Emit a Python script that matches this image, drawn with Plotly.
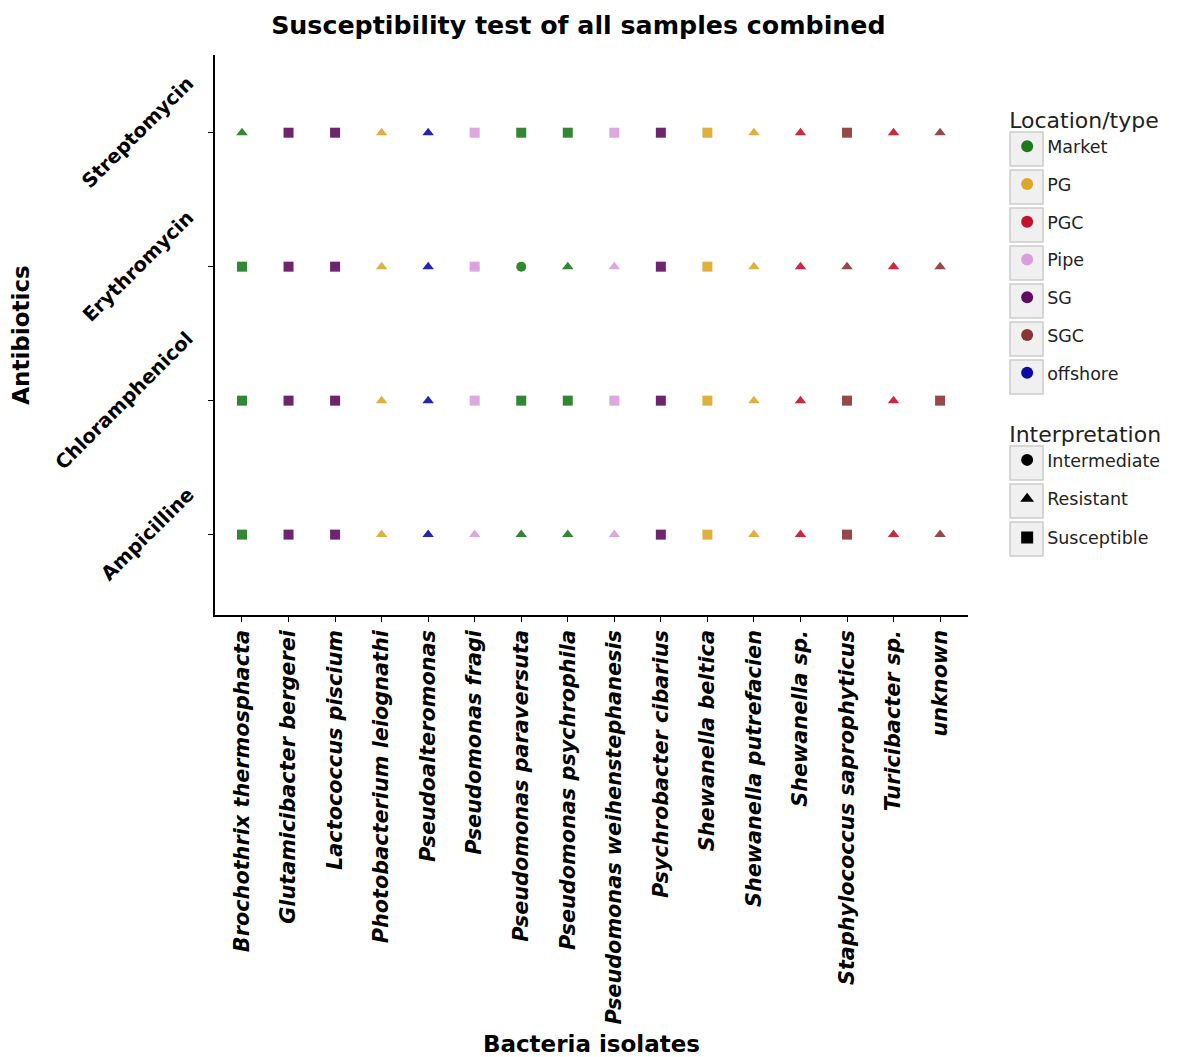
import plotly.graph_objects as go

bacteria = [
    "Brochothrix thermosphacta", "Glutamicibacter bergerei", "Lactococcus piscium",
    "Photobacterium leiognathi", "Pseudoalteromonas", "Pseudomonas fragi",
    "Pseudomonas paraversuta", "Pseudomonas psychrophila", "Pseudomonas weihenstephanesis",
    "Psychrobacter cibarius", "Shewanella beltica", "Shewanella putrefacien",
    "Shewanella sp.", "Staphylococcus saprophyticus", "Turicibacter sp.", "unknown",
]
antibiotics = ["Ampicilline", "Chloramphenicol", "Erythromycin", "Streptomycin"]

locations = ["Market", "SG", "SG", "PG", "offshore", "Pipe", "Market", "Market",
             "Pipe", "SG", "PG", "PG", "PGC", "SGC", "PGC", "SGC"]

# Interpretation per antibiotic (S = Susceptible, R = Resistant, I = Intermediate)
ampicilline =     ["S", "S", "S", "R", "R", "R", "R", "R", "R", "S", "S", "R", "R", "S", "R", "R"]
chloramphenicol = ["S", "S", "S", "R", "R", "S", "S", "S", "S", "S", "S", "R", "R", "S", "R", "S"]
erythromycin =    ["S", "S", "S", "R", "R", "S+R", "I", "R", "R", "S", "S", "R", "R", "R", "R", "R"]
streptomycin =    ["R", "S", "S", "R", "R", "S", "S", "S", "S", "S", "S", "R", "R", "S", "R", "R"]
results = [ampicilline, chloramphenicol, erythromycin, streptomycin]

location_names = ["Market", "PG", "PGC", "Pipe", "SG", "SGC", "offshore"]
location_colors = {"Market": "#1c7a1c", "PG": "#dca62a", "PGC": "#c4122c", "Pipe": "#dc9ddc",
                   "SG": "#5e0c5e", "SGC": "#8c3434", "offshore": "#0c0ca4"}
interp_names = ["Intermediate", "Resistant", "Susceptible"]
interp_symbols = {"Intermediate": "circle", "Resistant": "triangle-up", "Susceptible": "square"}
code_map = {"I": "Intermediate", "R": "Resistant", "S": "Susceptible"}

xs, ys, cols, syms = [], [], [], []
for ab, res in zip(antibiotics, results):
    for b, loc, r in zip(bacteria, locations, res):
        for code in r.split("+"):
            xs.append(b)
            ys.append(ab)
            cols.append(location_colors[loc])
            syms.append(interp_symbols[code_map[code]])

fig = go.Figure()
fig.add_trace(go.Scatter(
    x=xs, y=ys, mode="markers", showlegend=False,
    marker=dict(color=cols, symbol=syms, size=10, opacity=0.9, line=dict(width=0)),
))

for i, loc in enumerate(location_names):
    fig.add_trace(go.Scatter(
        x=[None], y=[None], mode="markers", name=loc, legend="legend",
        legendgroup="loc" + str(i),
        marker=dict(color=location_colors[loc], symbol="circle", size=8),
    ))
for i, it in enumerate(interp_names):
    fig.add_trace(go.Scatter(
        x=[None], y=[None], mode="markers", name=it, legend="legend2",
        legendgroup="int" + str(i),
        marker=dict(color="black", symbol=interp_symbols[it], size=8),
    ))

# legend-entry frames (decorative)
def px_to_paper_x(px):
    return (px - 215) / 753.0

def px_to_paper_y(py):
    return (615 - py) / 560.0

shapes = []
for cy in [149, 187, 225, 263, 301, 339, 377, 463, 501, 539]:
    shapes.append(dict(
        type="rect", xref="paper", yref="paper", layer="below",
        x0=px_to_paper_x(1010), x1=px_to_paper_x(1043),
        y0=px_to_paper_y(cy + 17), y1=px_to_paper_y(cy - 17),
        fillcolor="#f0f0f0", line=dict(color="#cccccc", width=1.5),
    ))

font = "DejaVu Sans"

# rotated y tick labels: right edge next to the axis, vertically centred on the tick
annotations = []
for ab in antibiotics:
    annotations.append(dict(
        text="<b>" + ab + "</b>", x=px_to_paper_x(201), xref="paper", y=ab, yref="y",
        xanchor="right", yanchor="middle", textangle=-45, showarrow=False,
        font=dict(size=19.5, family=font, color="black"),
    ))

fig.update_layout(
    width=1178, height=1057,
    margin=dict(l=215, r=210, t=55, b=442),
    paper_bgcolor="white", plot_bgcolor="white",
    font=dict(family=font, color="black"),
    shapes=shapes,
    annotations=annotations,
    title=dict(text="<b>Susceptibility test of all samples combined</b>",
               x=0.491, xanchor="center", y=0.976, yanchor="middle",
               font=dict(size=25.3, family=font, color="black")),
    legend=dict(
        title=dict(text="Location/type", font=dict(size=22, family=font, color="#222")),
        x=1.052, xanchor="left", y=0.92, yanchor="top",
        font=dict(size=17.5, family=font, color="#222"),
        tracegroupgap=12, itemsizing="constant",
        bgcolor="rgba(0,0,0,0)",
    ),
    legend2=dict(
        title=dict(text="Interpretation", font=dict(size=22, family=font, color="#222")),
        x=1.052, xanchor="left", y=0.36, yanchor="top",
        font=dict(size=17.5, family=font, color="#222"),
        tracegroupgap=13, itemsizing="constant",
        bgcolor="rgba(0,0,0,0)",
    ),
)
fig.update_xaxes(
    categoryorder="array", categoryarray=bacteria,
    range=[-0.58, 15.6], showgrid=False, zeroline=False,
    showline=True, linecolor="black", linewidth=1.5,
    ticks="outside", ticklen=5, tickcolor="black", tickangle=-90,
    tickfont=dict(size=20.8, family=font, color="black", weight="bold", style="italic"),
    title=dict(text="<b>Bacteria isolates</b>", font=dict(size=23, family=font, color="black"),
               standoff=12),
    automargin=False,
)
fig.update_yaxes(
    categoryorder="array", categoryarray=antibiotics,
    range=[-0.6, 3.58], showgrid=False, zeroline=False,
    showline=True, linecolor="black", linewidth=1.5,
    ticks="outside", ticklen=5, tickcolor="black",
    showticklabels=False,
    title=dict(text="<b>Antibiotics</b>", font=dict(size=23, family=font, color="black"),
               standoff=172),
    automargin=False,
)

fig.write_html("out.html")
